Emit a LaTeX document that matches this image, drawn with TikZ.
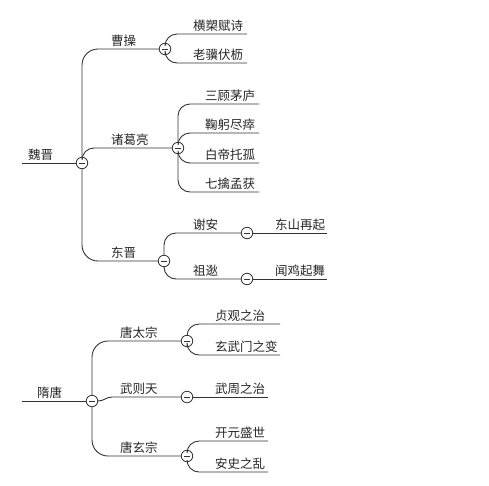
\documentclass[tikz,border=0pt]{standalone}
\usepackage{fontspec}
\newfontfamily\cjk{Noto Sans CJK SC}
\begin{document}
\begin{tikzpicture}[x=1pt,y=-1pt,
  conn/.style={draw=black!80, line width=0.9pt, rounded corners=12pt},
  trunk/.style={conn, rounded corners=16pt},
  fold/.style={circle, draw=black!80, line width=0.8pt, fill=white, minimum size=11.5pt, inner sep=0pt,
    path picture={\draw[line width=0.8pt] ([xshift=-2.6pt]path picture bounding box.center) -- ([xshift=2.6pt]path picture bounding box.center);}},
  lbl/.style={anchor=base west, inner sep=0pt, font=\cjk\fontsize{12.5}{14}\selectfont, text=black!85}]
\useasboundingbox (0,0) rectangle (489,485);

% ---------- 魏晋 ----------
\coordinate (wjs) at (22,163);
\node[fold] (wj) at (82,163) {};
\node[lbl] (wjt) at (28,159.5) {魏晋};

\node[fold] (cc) at (165,49) {};
\node[lbl] (cct) at (111,45.5) {曹操};
\coordinate (cc1) at (247,34);
\coordinate (cc2) at (247,63);
\node[lbl] (cc1t) at (193,30.5) {横槊赋诗};
\node[lbl] (cc2t) at (193,59.5) {老骥伏枥};

\node[fold] (zg) at (178,148) {};
\node[lbl] (zgt) at (111,144.5) {诸葛亮};
\coordinate (zg1) at (259,104);
\coordinate (zg2) at (259,133);
\coordinate (zg3) at (259,163);
\coordinate (zg4) at (259,192);
\node[lbl] (zg1t) at (205,100.5) {三顾茅庐};
\node[lbl] (zg2t) at (205,129.5) {鞠躬尽瘁};
\node[lbl] (zg3t) at (205,159.5) {白帝托孤};
\node[lbl] (zg4t) at (205,188.5) {七擒孟获};

\node[fold] (dj) at (164,261) {};
\node[lbl] (djt) at (111,257.5) {东晋};
\node[fold] (xa) at (247,233) {};
\node[lbl] (xat) at (193,229.5) {谢安};
\coordinate (xa1) at (327,233);
\node[lbl] (xa1t) at (275,229.5) {东山再起};
\node[fold] (zt) at (247,279) {};
\node[lbl] (ztt) at (193,275.5) {祖逖};
\coordinate (zt1) at (327,279);
\node[lbl] (zt1t) at (275,275.5) {闻鸡起舞};

\draw[conn] (wjs) -- (wj);
\draw[trunk] (wj) |- (cc);
\draw[conn] (wj) |- (zg);
\draw[trunk] (wj) |- (dj);
\draw[conn] (cc) |- (cc1);
\draw[conn] (cc) |- (cc2);
\draw[conn] (zg) |- (zg1);
\draw[conn] (zg) |- (zg2);
\draw[conn] (zg) |- (zg3);
\draw[conn] (zg) |- (zg4);
\draw[conn] (dj) |- (xa);
\draw[conn] (dj) |- (zt);
\draw[conn] (xa) -- (xa1);
\draw[conn] (zt) -- (zt1);

% ---------- 隋唐 ----------
\coordinate (sts) at (22,401);
\node[fold] (st) at (92,401) {};
\node[lbl] (stt) at (37,397.5) {隋唐};

\node[fold] (tz) at (187,341) {};
\node[lbl] (tzt) at (120,337.5) {唐太宗};
\coordinate (tz1) at (280,324);
\coordinate (tz2) at (280,355);
\node[lbl] (tz1t) at (215,320.5) {贞观之治};
\node[lbl] (tz2t) at (215,351.5) {玄武门之变};

\node[fold] (wz) at (187,397) {};
\node[lbl] (wzt) at (120,393.5) {武则天};
\coordinate (wzm) at (112,397);
\coordinate (wz1) at (268,397);
\node[lbl] (wz1t) at (215,393.5) {武周之治};

\node[fold] (xz) at (187,456) {};
\node[lbl] (xzt) at (120,452.5) {唐玄宗};
\coordinate (xz1) at (268,441);
\coordinate (xz2) at (268,472);
\node[lbl] (xz1t) at (215,437.5) {开元盛世};
\node[lbl] (xz2t) at (215,468.5) {安史之乱};

\draw[conn] (sts) -- (st);
\draw[trunk] (st) |- (tz);
\draw[conn, rounded corners=0pt] (st.east) to[out=0,in=180] (wzm) -- (wz);
\draw[trunk] (st) |- (xz);
\draw[conn] (tz) |- (tz1);
\draw[conn] (tz) |- (tz2);
\draw[conn] (wz) -- (wz1);
\draw[conn] (xz) |- (xz1);
\draw[conn] (xz) |- (xz2);
\end{tikzpicture}
\end{document}
